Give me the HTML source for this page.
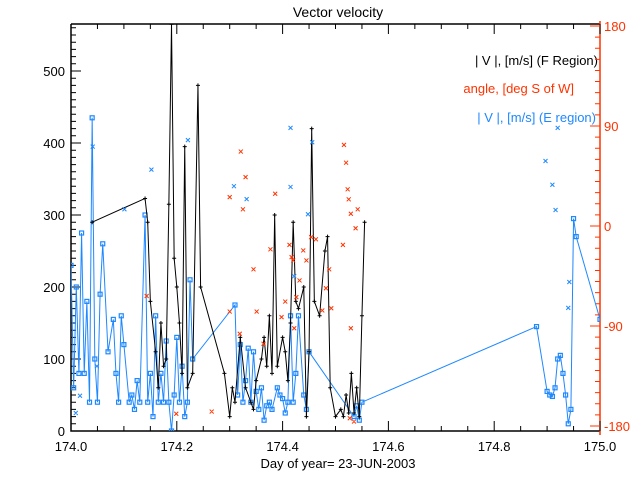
<!DOCTYPE html>
<html><head><meta charset="utf-8"><style>
html,body{margin:0;padding:0;background:#fff;}
svg{display:block;font-family:"Liberation Sans",sans-serif;}
</style></head><body>
<svg id="chart" width="640" height="480" viewBox="0 0 640 480">
<text x="338" y="17" font-size="14" text-anchor="middle">Vector velocity</text>
<text x="338" y="468" font-size="13" text-anchor="middle">Day of year= 23-JUN-2003</text>
<text x="598" y="65" font-size="13" text-anchor="end" fill="#000">| V |, [m/s] (F Region)</text>
<text x="574" y="93" font-size="13" text-anchor="end" fill="#ff3300">angle, [deg S of W]</text>
<text x="596" y="122" font-size="13" text-anchor="end" fill="#1e88ff">| V |, [m/s] (E region)</text>
<g id="axes"></g><g id="marks"></g>
</svg>
<script>
const xTicks=[174.0,174.2,174.4,174.6,174.8,175.0];
const xTickLabels=["174.0","174.2","174.4","174.6","174.8","175.0"];
const yTicks=[0,100,200,300,400,500];
const y2Ticks=[-180,-90,0,90,180];
const fDays=[174.04,174.14,174.145,174.15,174.16,174.165,174.17,174.175,174.18,174.185,174.19,174.195,174.2,174.205,174.21,174.215,174.22,174.23,174.24,174.245,174.29,174.30,174.305,174.31,174.32,174.33,174.34,174.345,174.35,174.36,174.365,174.37,174.375,174.38,174.385,174.39,174.40,174.405,174.41,174.415,174.42,174.425,174.43,174.44,174.445,174.45,174.455,174.46,174.47,174.48,174.485,174.49,174.50,174.51,174.515,174.52,174.525,174.53,174.535,174.54,174.545,174.55,174.555];
const fVel=[290,323,290,180,110,60,150,90,100,315,565,240,200,150,80,395,60,80,480,200,80,20,60,40,130,60,40,30,70,100,130,90,160,80,300,90,130,110,70,150,290,180,170,200,20,110,420,180,160,250,270,60,20,30,20,50,25,80,25,60,20,160,290];
const eDays=[174.0,174.005,174.01,174.015,174.02,174.025,174.03,174.035,174.04,174.045,174.05,174.055,174.06,174.07,174.08,174.085,174.09,174.095,174.1,174.11,174.115,174.12,174.125,174.13,174.14,174.145,174.15,174.155,174.16,174.165,174.17,174.175,174.18,174.185,174.19,174.195,174.2,174.205,174.21,174.215,174.22,174.225,174.23,174.31,174.315,174.32,174.325,174.33,174.335,174.34,174.345,174.35,174.355,174.36,174.365,174.37,174.375,174.38,174.39,174.395,174.40,174.405,174.41,174.415,174.42,174.425,174.43,174.44,174.445,174.45,174.535,174.54,174.545,174.55,174.88,174.9,174.905,174.91,174.915,174.92,174.925,174.93,174.935,174.94,174.945,174.95,174.955,175.0];
const eVel=[230,60,200,80,275,80,180,40,435,100,40,190,260,110,155,80,40,160,120,40,50,30,70,40,300,40,80,20,160,40,80,40,125,40,0,50,130,40,90,20,40,210,100,175,50,120,40,70,115,40,110,55,30,60,15,35,40,30,60,50,45,25,40,160,40,80,160,50,30,110,20,35,15,40,145,55,50,48,60,100,105,80,50,10,30,295,270,155];
const exDays=[174.009,174.017,174.041,174.049,174.101,174.152,174.221,174.308,174.332,174.415,174.456,174.415,174.448,174.422,174.897,174.91,174.916,174.92,174.94,174.942];
const exVel=[25,49,395,90,308,363,404,340,322,421,401,339,301,215,375,342,307,421,171,207];
const aDays=[174.143,174.199,174.266,174.300,174.321,174.30,174.330,174.325,174.345,174.351,174.364,174.377,174.386,174.398,174.405,174.413,174.417,174.42,174.426,174.432,174.439,174.445,174.454,174.463,174.475,174.482,174.488,174.492,174.516,174.52,174.523,174.525,174.529,174.538,174.542,174.514,174.529,174.527,174.535,174.422,174.319];
const aDeg=[-63,-169,-167,-77,67,26,44,15,-39,-77,-106,-21,29,-82,-68,-17,-28,-31,-64,-49,-22,-31,-10,-12,-76,-56,-39,-74,73,57,33,24,11,-2,15,-17,-92,-173,-176,-92,-97];

const X0=71,X1=600,YT=24,YB=431;
const sx=d=>X0+(d-174)/(175-174)*(X1-X0);
const sy=v=>YB-v*0.72;
const sa=a=>426-(a+180)/360*400;
const NS="http://www.w3.org/2000/svg";
function mk(tag,attrs,parent){const e=document.createElementNS(NS,tag);for(const k in attrs)e.setAttribute(k,attrs[k]);parent.appendChild(e);return e;}
const axes=document.getElementById('axes'),marks=document.getElementById('marks');
const frame=mk('path',{d:`M${X0},${YT}H${X1}M${X0},${YT}V${YB}H${X1}`,stroke:'#000',fill:'none','stroke-width':1.5},axes);


const ry=mk('line',{x1:X1,y1:YT-3,x2:X1,y2:YB+4,stroke:'#ff3300','stroke-width':1.5},axes);


let tp='';
for(let d=174;d<=175.001;d+=0.05){const x=sx(d);const L=(Math.round(d*100)%20===0)?10:5;tp+=`M${x},${YB}v${-L}M${x},${YT}v${L}`;}
for(let v=0;v<=565;v+=10){const y=sy(v);const L=(v%100===0)?10:5;tp+=`M${X0},${y}h${L}`;}
const tk=mk('path',{d:tp,stroke:'#000',fill:'none'},axes);


let rp='';
for(let a=-180;a<=180;a+=10){const y=sa(a);const L=(a%90===0)?10:5;rp+=`M${X1},${y}h${-L}`;}
const rt=mk('path',{d:rp,stroke:'#ff3300',fill:'none'},axes);


xTicks.forEach((d,i)=>{const t=mk('text',{x:sx(d),y:451,'font-size':13,'text-anchor':'middle'},axes);t.textContent=xTickLabels[i];

});
yTicks.forEach(v=>{const t=mk('text',{x:X0-6,y:sy(v)+5,'font-size':13,'text-anchor':'end'},axes);t.textContent=String(v);

});
y2Ticks.forEach(a=>{const t=mk('text',{x:X1+4,y:sa(a)+5,'font-size':13,fill:'#ff3300'},axes);t.textContent=String(a);

});
const cp=mk('clipPath',{id:'clip'},marks);mk('rect',{x:X0,y:YT,width:X1-X0,height:YB-YT},cp);
const g=mk('g',{'clip-path':'url(#clip)'},marks);
function cross(x,y,c){return `M${x-2},${y-2}l4,4M${x+2},${y-2}l-4,4`;}
// E-region line
const ep=mk('polyline',{points:eDays.map((d,i)=>sx(d)+','+sy(eVel[i])).join(' '),fill:'none',stroke:'#1e88ff','stroke-width':1},g);


eDays.forEach((d,i)=>{const r=mk('rect',{x:sx(d)-2,y:sy(eVel[i])-2,width:4,height:4,fill:'none',stroke:'#1e88ff','stroke-width':1.2},g);

});
// F-region line
const fp=mk('polyline',{points:fDays.map((d,i)=>sx(d)+','+sy(fVel[i])).join(' '),fill:'none',stroke:'#000','stroke-width':1},g);


let pp='';fDays.forEach((d,i)=>{const x=sx(d),y=sy(fVel[i]);pp+=`M${x-2},${y}h4M${x},${y-2}v4`;});
const fm=mk('path',{d:pp,stroke:'#000',fill:'none'},g);


let bx='';exDays.forEach((d,i)=>{bx+=cross(sx(d),sy(exVel[i]));});
const bxe=mk('path',{d:bx,stroke:'#1e88ff',fill:'none'},g);


let ax='';aDays.forEach((d,i)=>{ax+=cross(sx(d),sa(aDeg[i]));});
const axe=mk('path',{d:ax,stroke:'#ff3300',fill:'none'},g);


</script>
</body></html>
